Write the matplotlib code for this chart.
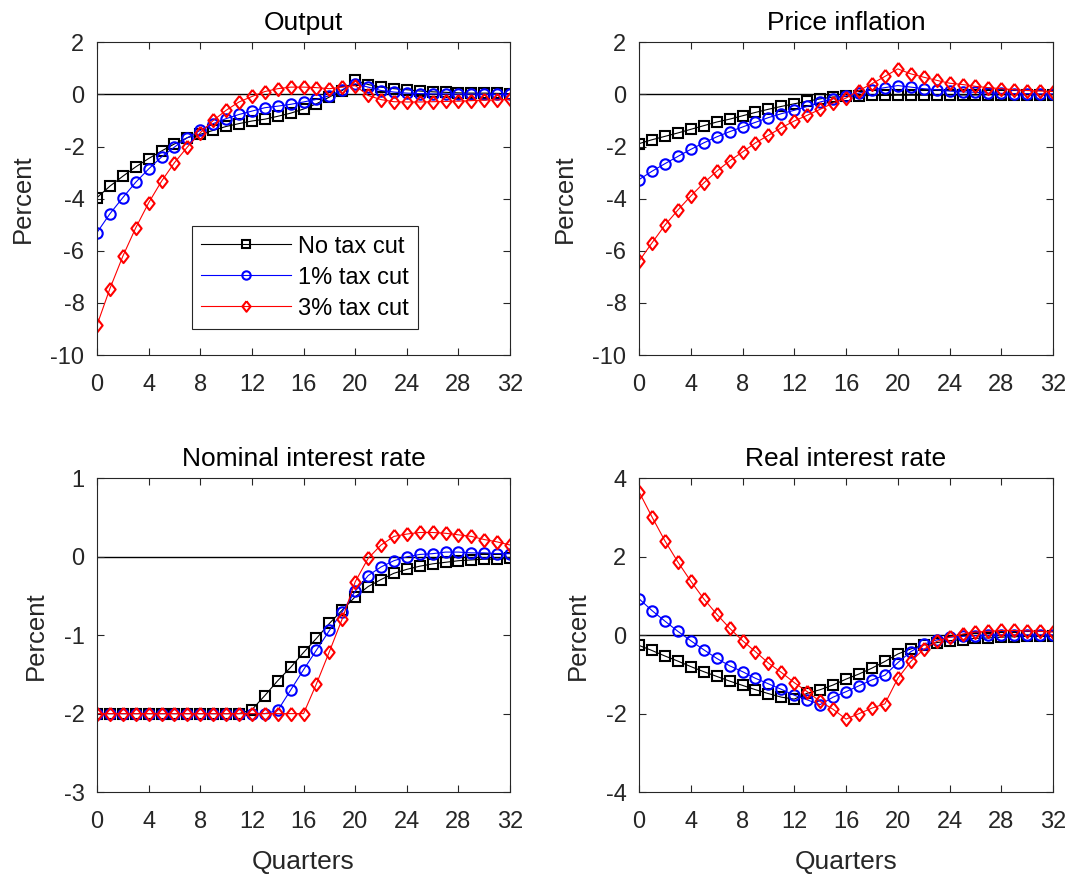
"""
Impulse responses: output, inflation and interest rates under tax cuts.
"""

import matplotlib
matplotlib.use('Agg')
import matplotlib.pyplot as plt
import numpy as np

plt.rcParams['font.family'] = ['Liberation Sans', 'DejaVu Sans']
plt.rcParams['axes.unicode_minus'] = False

quarters = np.arange(33)
labels = ['No tax cut', '1% tax cut', '3% tax cut']

# Output
output_none = [-3.96, -3.52, -3.14, -2.78, -2.46, -2.17, -1.90, -1.66, -1.53, -1.38,
               -1.23, -1.12, -1.02, -0.95, -0.84, -0.72, -0.56, -0.36, -0.10, 0.15,
               0.54, 0.38, 0.28, 0.22, 0.18, 0.13, 0.10, 0.08, 0.06, 0.05,
               0.05, 0.04, 0.03]
output_1pct = [-5.30, -4.58, -3.96, -3.37, -2.86, -2.40, -2.02, -1.66, -1.38, -1.12,
               -0.93, -0.77, -0.64, -0.51, -0.45, -0.38, -0.29, -0.19, -0.05, 0.18,
               0.41, 0.28, 0.15, 0.09, 0.05, 0.03, 0.02, 0.02, 0.01, 0.01,
               0.0, 0.0, 0.0]
output_3pct = [-8.85, -7.45, -6.21, -5.12, -4.16, -3.33, -2.62, -2.02, -1.47, -1.00,
               -0.61, -0.29, -0.08, 0.11, 0.22, 0.28, 0.28, 0.26, 0.22, 0.28,
               0.34, -0.04, -0.20, -0.28, -0.29, -0.29, -0.28, -0.27, -0.26, -0.24,
               -0.22, -0.21, -0.19]

# Price inflation
infl_none = [-1.89, -1.74, -1.61, -1.48, -1.34, -1.20, -1.06, -0.95, -0.82, -0.69,
             -0.57, -0.46, -0.36, -0.26, -0.17, -0.10, -0.08, -0.05, -0.04, -0.04,
             -0.03, -0.03, -0.03, -0.02, -0.02, -0.02, -0.02, -0.01, -0.01, -0.01,
             -0.01, -0.01, -0.01]
infl_1pct = [-3.27, -2.95, -2.66, -2.38, -2.11, -1.86, -1.63, -1.43, -1.25, -1.07,
             -0.89, -0.74, -0.61, -0.46, -0.29, -0.17, -0.06, 0.05, 0.18, 0.26,
             0.34, 0.28, 0.22, 0.18, 0.13, 0.10, 0.08, 0.05, 0.04, 0.03,
             0.03, 0.02, 0.02]
infl_3pct = [-6.40, -5.70, -5.02, -4.44, -3.90, -3.40, -2.95, -2.55, -2.21, -1.86,
             -1.57, -1.28, -1.02, -0.80, -0.57, -0.33, -0.14, 0.15, 0.41, 0.69,
             0.98, 0.79, 0.66, 0.54, 0.43, 0.38, 0.31, 0.26, 0.22, 0.18,
             0.15, 0.13, 0.11]

# Nominal interest rate
nom_none = [-2.0] * 12 + [-1.95, -1.77, -1.58, -1.41, -1.22, -1.04, -0.85, -0.68,
                          -0.51, -0.38, -0.29, -0.21, -0.16, -0.12, -0.09, -0.07,
                          -0.05, -0.04, -0.03, -0.03, -0.02]
nom_1pct = [-2.0] * 14 + [-1.96, -1.70, -1.44, -1.19, -0.94, -0.70, -0.44, -0.24,
                          -0.13, -0.05, 0.00, 0.03, 0.04, 0.06, 0.06, 0.05,
                          0.05, 0.04, 0.04]
nom_3pct = [-2.0] * 17 + [-1.62, -1.21, -0.79, -0.32, -0.02, 0.15, 0.26, 0.29,
                          0.31, 0.31, 0.30, 0.28, 0.26, 0.22, 0.19, 0.15]

# Real interest rate
real_none = [-0.26, -0.39, -0.53, -0.66, -0.80, -0.93, -1.05, -1.17, -1.28, -1.39,
             -1.49, -1.58, -1.63, -1.48, -1.39, -1.27, -1.12, -0.99, -0.84, -0.67,
             -0.48, -0.35, -0.25, -0.19, -0.14, -0.11, -0.08, -0.07, -0.05, -0.04,
             -0.03, -0.03, -0.03]
real_1pct = [0.93, 0.63, 0.36, 0.10, -0.14, -0.37, -0.59, -0.78, -0.93, -1.10,
             -1.24, -1.38, -1.53, -1.65, -1.77, -1.58, -1.44, -1.29, -1.14, -1.02,
             -0.70, -0.42, -0.23, -0.12, -0.05, -0.03, -0.01, 0.0, 0.01, 0.01,
             0.01, 0.01, 0.01]
real_3pct = [3.66, 3.02, 2.41, 1.87, 1.38, 0.93, 0.54, 0.18, -0.14, -0.42,
             -0.71, -0.95, -1.21, -1.44, -1.69, -1.89, -2.14, -2.00, -1.86, -1.75,
             -1.10, -0.67, -0.36, -0.16, -0.05, 0.03, 0.08, 0.10, 0.12, 0.12,
             0.11, 0.10, 0.08]

panels = [
    ('Output', [output_none, output_1pct, output_3pct], (-10, 2), 2),
    ('Price inflation', [infl_none, infl_1pct, infl_3pct], (-10, 2), 2),
    ('Nominal interest rate', [nom_none, nom_1pct, nom_3pct], (-3, 1), 1),
    ('Real interest rate', [real_none, real_1pct, real_3pct], (-4, 4), 2),
]

# MATLAB-style diamond: a bit taller than wide
diamond = [(0, 1), (0.78, 0), (0, -1), (-0.78, 0), (0, 1)]
styles = [('black', 's', 7.0), ('blue', 'o', 7.5), ('red', diamond, 9.5)]
positions = [
    [0.0904, 0.597, 0.385, 0.355],
    [0.5955, 0.597, 0.386, 0.355],
    [0.0904, 0.101, 0.385, 0.356],
    [0.5955, 0.101, 0.386, 0.356],
]


def main():
    fig = plt.figure(figsize=(10.73, 8.81), dpi=100)
    for i, (title, series, ylim, ystep) in enumerate(panels):
        ax = fig.add_axes(positions[i])
        ax.axhline(0, color='black', linewidth=1.0, zorder=1)
        for (color, marker, ms), values, label in zip(styles, series, labels):
            ax.plot(quarters, values, color=color, linewidth=0.8,
                    marker=marker, markersize=ms, markerfacecolor='none',
                    markeredgewidth=1.5, label=label, zorder=2)
        ax.set_xlim(0, 32)
        ax.set_ylim(*ylim)
        ax.set_xticks(np.arange(0, 33, 4))
        ax.set_yticks(np.arange(ylim[0], ylim[1] + 0.5, ystep))
        ax.tick_params(direction='in', length=5, width=0.8, top=True, right=True,
                       labelsize=17, colors='#262626')
        ax.tick_params(axis='x', pad=14)
        ax.tick_params(axis='y', pad=9)
        for spine in ax.spines.values():
            spine.set_color('#262626')
            spine.set_linewidth(0.8)
        ax.set_title(title, fontsize=19, pad=9)
        ax.set_ylabel('Percent', fontsize=18.5, color='#262626', labelpad=11)
        if i >= 2:
            ax.set_xlabel('Quarters', fontsize=19, color='#262626', labelpad=12)
        if i == 0:
            leg = ax.legend(loc='upper left', bbox_to_anchor=(0.23, 0.412),
                            fontsize=17, handlelength=3.8, handletextpad=0.3,
                            fancybox=False, framealpha=1, borderaxespad=0,
                            borderpad=0.4, labelspacing=0.38, markerscale=0.8)
            leg.get_frame().set_edgecolor('#262626')
            leg.get_frame().set_linewidth(0.8)
    fig.savefig('out.png', dpi=100)


if __name__ == '__main__':
    main()
